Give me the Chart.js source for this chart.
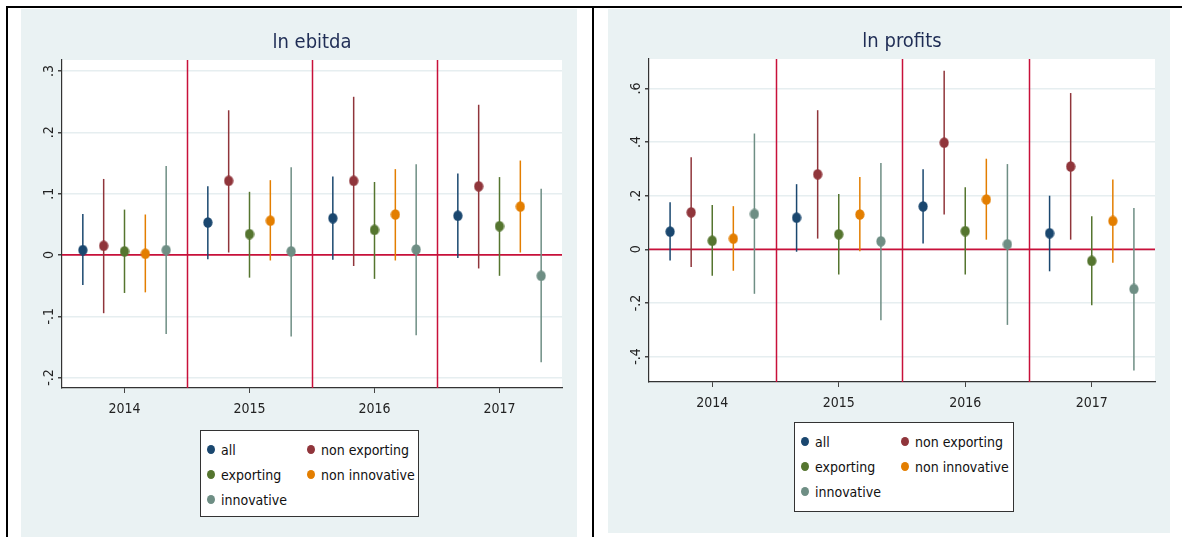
<!DOCTYPE html>
<html>
<head>
<meta charset="utf-8">
<script src="https://cdn.jsdelivr.net/npm/chart.js@4.4.1/dist/chart.umd.min.js"></script>
<style>
  html, body { margin: 0; padding: 0; }
  body { width: 1182px; height: 537px; position: relative; overflow: hidden; background: #ffffff;
         font-family: "Liberation Sans Narrow", "DejaVu Sans Condensed", "Liberation Sans", sans-serif; }
  .rule { position: absolute; background: #000; }
  .panel { position: absolute; background: #eaf2f3; }
  .panel canvas { position: absolute; left: 0; top: 0; }
  .legend { position: absolute; background: #fff; border: 1px solid #333; box-sizing: border-box;
            padding: 6px 6px 0 6px; display: grid; grid-template-columns: 100px auto; grid-auto-rows: 25px; }
  .legend .item { display: flex; align-items: center; font-size: 14px; color: #111; white-space: nowrap; }
  .legend .dot { width: 8px; height: 9px; border-radius: 50%; margin-right: 6px; flex: none; }
</style>
</head>
<body>
<div class="rule" style="left:6px;top:6px;width:1176px;height:2px"></div>
<div class="rule" style="left:6px;top:6px;width:2px;height:531px"></div>
<div class="rule" style="left:592px;top:6px;width:2px;height:531px"></div>

<div class="panel" id="panelL" style="left:21px;top:9px;width:556px;height:528px">
  <canvas id="chartL" width="556" height="420"></canvas>
  <div class="legend" id="legendL" style="left:179px;top:421px;width:219px;height:87px"></div>
</div>
<div class="panel" id="panelR" style="left:608px;top:9px;width:562px;height:524px">
  <canvas id="chartR" width="562" height="414"></canvas>
  <div class="legend" id="legendR" style="left:186px;top:413px;width:220px;height:90px"></div>
</div>

<script>
// ---------- data ----------
const years = [2014, 2015, 2016, 2017];
const seriesNames = ["all", "non exporting", "exporting", "non innovative", "innovative"];

// ln ebitda: point estimates and confidence bounds, one value per year
const ebitdaAll        = [0.008, 0.053, 0.060, 0.064];
const ebitdaAllLo      = [-0.049, -0.007, -0.008, -0.005];
const ebitdaAllHi      = [0.067, 0.112, 0.128, 0.133];
const ebitdaNonExp     = [0.015, 0.121, 0.121, 0.112];
const ebitdaNonExpLo   = [-0.095, 0.004, -0.018, -0.022];
const ebitdaNonExpHi   = [0.124, 0.236, 0.258, 0.245];
const ebitdaExp        = [0.006, 0.034, 0.041, 0.047];
const ebitdaExpLo      = [-0.062, -0.037, -0.039, -0.034];
const ebitdaExpHi      = [0.074, 0.103, 0.119, 0.127];
const ebitdaNonInn     = [0.002, 0.056, 0.066, 0.079];
const ebitdaNonInnLo   = [-0.061, -0.009, -0.009, 0.004];
const ebitdaNonInnHi   = [0.066, 0.122, 0.140, 0.154];
const ebitdaInn        = [0.008, 0.006, 0.009, -0.034];
const ebitdaInnLo      = [-0.129, -0.133, -0.131, -0.175];
const ebitdaInnHi      = [0.145, 0.143, 0.148, 0.108];
const ebitdaTicks      = [-0.2, -0.1, 0, 0.1, 0.2, 0.3];

// ln profits
const profitsAll       = [0.066, 0.118, 0.160, 0.060];
const profitsAllLo     = [-0.042, -0.009, 0.022, -0.082];
const profitsAllHi     = [0.176, 0.243, 0.299, 0.200];
const profitsNonExp    = [0.138, 0.280, 0.398, 0.309];
const profitsNonExpLo  = [-0.066, 0.040, 0.130, 0.036];
const profitsNonExpHi  = [0.343, 0.519, 0.666, 0.583];
const profitsExp       = [0.032, 0.056, 0.068, -0.043];
const profitsExpLo     = [-0.099, -0.094, -0.094, -0.209];
const profitsExpHi     = [0.165, 0.206, 0.232, 0.123];
const profitsNonInn    = [0.040, 0.130, 0.186, 0.106];
const profitsNonInnLo  = [-0.080, -0.007, 0.036, -0.050];
const profitsNonInnHi  = [0.161, 0.270, 0.338, 0.260];
const profitsInn       = [0.132, 0.030, 0.019, -0.148];
const profitsInnLo     = [-0.166, -0.265, -0.282, -0.452];
const profitsInnHi     = [0.432, 0.322, 0.318, 0.154];
const profitsTicks     = [-0.4, -0.2, 0, 0.2, 0.4, 0.6];

const refLinesX = [2014.5, 2015.5, 2016.5];
const refLineY = 0;

// ---------- styles ----------
const colors = ["#1a476f", "#90353b", "#55752f", "#e37e00", "#6e8e84"];
const dodge = [-1/3, -1/6, 0, 1/6, 1/3];
const FONT = '"Liberation Sans Narrow", "DejaVu Sans Condensed", "Liberation Sans", sans-serif';

function markerImg(color) {
  const c = document.createElement('canvas');
  c.width = 10; c.height = 11;
  const g = c.getContext('2d');
  g.fillStyle = color;
  g.beginPath();
  g.ellipse(5, 5.5, 4.6, 5.3, 0, 0, Math.PI * 2);
  g.fill();
  return c;
}

function fmtTick(v) {
  if (Math.abs(v) < 1e-9) return '0';
  const s = Math.abs(v).toFixed(1).replace(/^0/, '');
  return (v < 0 ? '-' : '') + s;
}

const plotBg = {
  id: 'plotBg',
  beforeDraw(chart) {
    const { ctx, chartArea: a } = chart;
    ctx.save();
    ctx.fillStyle = '#ffffff';
    ctx.fillRect(a.left, a.top, a.right - a.left, a.bottom - a.top);
    ctx.restore();
  }
};

const refLines = {
  id: 'refLines',
  beforeDatasetsDraw(chart) {
    const { ctx, chartArea: a, scales: { x, y } } = chart;
    ctx.save();
    ctx.strokeStyle = '#c8103a';
    ctx.lineWidth = 1.5;
    refLinesX.forEach(v => {
      const px = Math.round(x.getPixelForValue(v)) + 0.5;
      ctx.beginPath(); ctx.moveTo(px, a.top); ctx.lineTo(px, a.bottom); ctx.stroke();
    });
    const py = y.getPixelForValue(refLineY);
    ctx.lineWidth = 1.8;
    ctx.beginPath(); ctx.moveTo(a.left, py); ctx.lineTo(a.right, py); ctx.stroke();
    ctx.restore();
  }
};

function buildChart(canvasId, legendId, title, pts, los, his, yMin, yMax, yTicks, titlePadTop, padRight) {
  const datasets = [];
  seriesNames.forEach((name, i) => {
    datasets.push({
      type: 'bar', label: name + ' CI',
      data: years.map((yr, j) => ({ x: yr + dodge[i], y: [los[i][j], his[i][j]] })),
      backgroundColor: colors[i], borderWidth: 0,
      maxBarThickness: 1.5, grouped: false, order: 2
    });
  });
  seriesNames.forEach((name, i) => {
    datasets.push({
      type: 'scatter', label: name,
      data: years.map((yr, j) => ({ x: yr + dodge[i], y: pts[i][j] })),
      backgroundColor: colors[i], borderColor: colors[i],
      pointStyle: markerImg(colors[i]), pointRadius: 5, order: 1
    });
  });

  const chart = new Chart(document.getElementById(canvasId), {
    type: 'scatter',
    data: { datasets },
    options: {
      responsive: false, animation: false, devicePixelRatio: 1,
      layout: { padding: { left: 0, right: padRight, top: 0, bottom: 0 } },
      plugins: {
        legend: { display: false },
        tooltip: { enabled: false },
        title: {
          display: true, text: title, fullSize: false,
          color: '#1f2d55', font: { family: FONT, size: 20, weight: 'normal' },
          padding: { top: titlePadTop, bottom: 5 }
        }
      },
      scales: {
        x: {
          type: 'linear', min: 2013.5, max: 2017.5, offset: false,
          afterBuildTicks: s => { s.ticks = years.map(v => ({ value: v })); },
          afterFit: s => { s.height = 41; },
          grid: { offset: false, drawOnChartArea: false, drawTicks: true, tickLength: 5, tickColor: '#444' },
          border: { display: true, color: '#333', width: 1.2 },
          ticks: { color: '#222', font: { family: FONT, size: 14 }, padding: 8,
                   callback: v => String(v), maxRotation: 0, autoSkip: false }
        },
        y: {
          type: 'linear', min: yMin, max: yMax,
          afterBuildTicks: s => { s.ticks = yTicks.map(v => ({ value: v })); },
          afterFit: s => { s.width = 41; },
          grid: { offset: false, color: '#e6eef0', lineWidth: 1.5, drawTicks: true, tickLength: 4, tickColor: '#444' },
          border: { display: true, color: '#333', width: 1.2 },
          ticks: { color: '#222', font: { family: FONT, size: 14 }, padding: 0,
                   minRotation: 90, maxRotation: 90, crossAlign: 'center',
                   callback: v => fmtTick(v), autoSkip: false }
        }
      }
    },
    plugins: [plotBg, refLines]
  });

  // HTML legend built from the chart's own point datasets
  const leg = document.getElementById(legendId);
  chart.data.datasets.filter(d => d.type === 'scatter').forEach(d => {
    const it = document.createElement('div');
    it.className = 'item';
    const dot = document.createElement('span');
    dot.className = 'dot';
    dot.style.background = d.backgroundColor;
    const tx = document.createElement('span');
    tx.textContent = d.label;
    it.appendChild(dot); it.appendChild(tx);
    leg.appendChild(it);
  });
  return chart;
}

buildChart('chartL', 'legendL', 'ln ebitda',
  [ebitdaAll, ebitdaNonExp, ebitdaExp, ebitdaNonInn, ebitdaInn],
  [ebitdaAllLo, ebitdaNonExpLo, ebitdaExpLo, ebitdaNonInnLo, ebitdaInnLo],
  [ebitdaAllHi, ebitdaNonExpHi, ebitdaExpHi, ebitdaNonInnHi, ebitdaInnHi],
  -0.217, 0.318, ebitdaTicks, 22, 15);

buildChart('chartR', 'legendR', 'ln profits',
  [profitsAll, profitsNonExp, profitsExp, profitsNonInn, profitsInn],
  [profitsAllLo, profitsNonExpLo, profitsExpLo, profitsNonInnLo, profitsInnLo],
  [profitsAllHi, profitsNonExpHi, profitsExpHi, profitsNonInnHi, profitsInnHi],
  -0.495, 0.71, profitsTicks, 21, 15);
</script>
</body>
</html>
